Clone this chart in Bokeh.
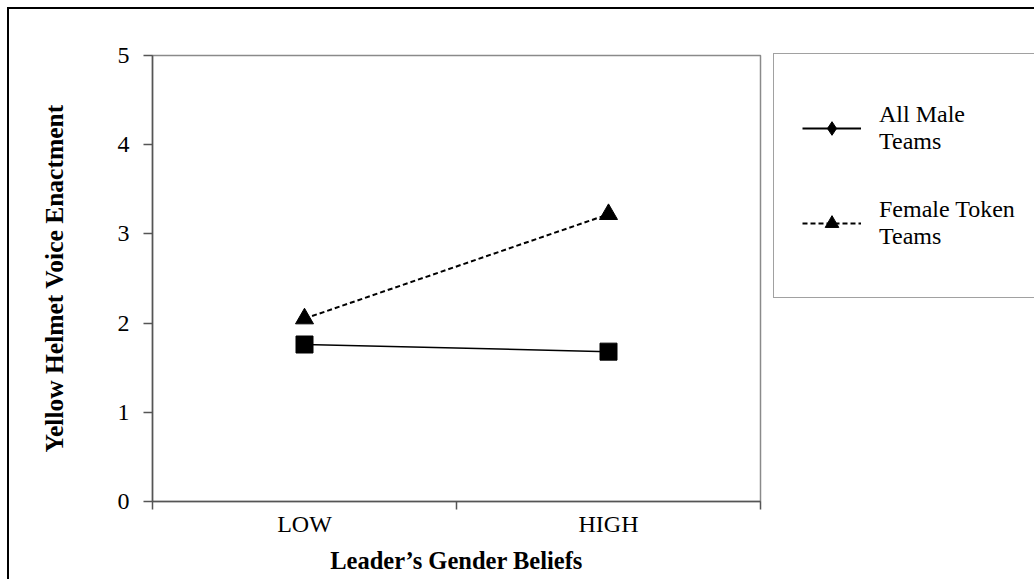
import math
from bokeh.plotting import figure
from bokeh.models import Range1d, FixedTicker, Legend, LegendItem
from bokeh.embed import file_html
from bokeh.resources import INLINE

categories = ["LOW", "HIGH"]
all_male = [1.76, 1.68]
female_token = [2.05, 3.22]
y_ticks = [0, 1, 2, 3, 4, 5]
series_labels = ["All Male\nTeams", "Female Token\nTeams"]

FONT = "Liberation Serif"

# category centres and boundaries on a numeric axis
xpos = [i + 0.5 for i in range(len(categories))]
edges = list(range(len(categories) + 1))

p = figure(x_range=Range1d(0, len(categories)), y_range=Range1d(0, 5),
           frame_width=608, frame_height=446,
           min_border_left=143, min_border_top=46, min_border_right=0, min_border_bottom=78,
           output_backend="svg", toolbar_location=None,
           styles={"margin-top": "7px", "margin-left": "7px",
                   "border-top": "2px solid black", "border-left": "2px solid black"})
p.xgrid.visible = False
p.ygrid.visible = False
p.outline_line_color = "#8a8a8a"
p.outline_line_width = 1.5
p.background_fill_color = "white"
p.border_fill_color = "white"

xa = p.xaxis[0]
xa.ticker = FixedTicker(ticks=xpos, minor_ticks=edges)
xa.major_label_overrides = {x: c for x, c in zip(xpos, categories)}
xa.major_tick_out = 0
xa.major_tick_in = 0
xa.minor_tick_out = 8
xa.minor_tick_in = 0
xa.minor_tick_line_color = "#555555"
xa.minor_tick_line_width = 1.5
xa.axis_line_color = "#555555"
xa.axis_line_width = 1.5
xa.major_label_standoff = 1
xa.major_label_text_font = FONT
xa.major_label_text_font_size = "24px"
xa.major_label_text_color = "black"
xa.axis_label = "Leader\u2019s Gender Beliefs"
xa.axis_label_text_font = FONT
xa.axis_label_text_font_size = "24.5px"
xa.axis_label_text_font_style = "bold"
xa.axis_label_standoff = 7
xa.axis_label_text_color = "black"

ya = p.yaxis[0]
ya.ticker = FixedTicker(ticks=y_ticks)
ya.major_tick_out = 9
ya.major_tick_in = 0
ya.minor_tick_out = 0
ya.minor_tick_in = 0
ya.axis_line_color = "#555555"
ya.axis_line_width = 1.5
ya.major_tick_line_color = "#555555"
ya.major_tick_line_width = 1.5
ya.major_label_standoff = 14
ya.major_label_text_font = FONT
ya.major_label_text_font_size = "24px"
ya.major_label_text_color = "black"
ya.axis_label = "Yellow Helmet Voice Enactment"
ya.axis_label_text_font = FONT
ya.axis_label_text_font_size = "25.5px"
ya.axis_label_text_font_style = "bold"
ya.axis_label_standoff = 46
ya.axis_label_text_color = "black"

# data
p.line(xpos, all_male, line_color="black", line_width=1.5)
p.scatter(xpos, all_male, marker="square", size=17, fill_color="black", line_color="black")
p.line(xpos, female_token, line_color="black", line_width=2, line_dash="5 3")
p.scatter(xpos, female_token, marker="triangle", size=18, fill_color="black", line_color="black")

# legend proxies
nan = [math.nan]
lg1 = p.line(nan, nan, line_color="black", line_width=2)
mk1 = p.scatter(nan, nan, marker="diamond", size=16, fill_color="black", line_color="black")
lg2 = p.line(nan, nan, line_color="black", line_width=2, line_dash="5 3")
mk2 = p.scatter(nan, nan, marker="triangle", size=14, fill_color="black", line_color="black")

legend = Legend(items=[LegendItem(label=series_labels[0], renderers=[lg1, mk1]),
                       LegendItem(label=series_labels[1], renderers=[lg2, mk2])],
                location=(13, 203), padding=28, spacing=3, glyph_width=59, glyph_height=34,
                label_standoff=18, label_width=100, label_height=92,
                label_text_font=FONT, label_text_font_size="24px",
                label_text_color="black", border_line_color="#444444", border_line_width=1.5,
                background_fill_alpha=1.0, margin=0)
p.add_layout(legend, "right")

open("out.html", "w").write(file_html(p, INLINE))
